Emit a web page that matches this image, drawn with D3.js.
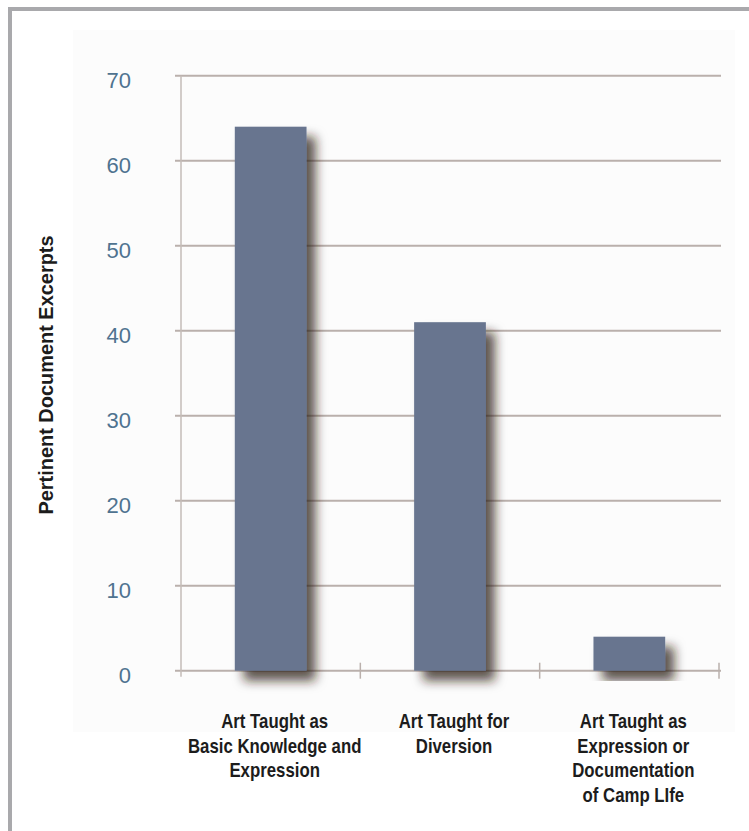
<!DOCTYPE html>
<html>
<head>
<meta charset="utf-8">
<script src="https://cdn.jsdelivr.net/npm/d3@7"></script>
<style>
  html, body { margin: 0; padding: 0; background: #ffffff; }
  svg { display: block; }
</style>
</head>
<body>
<div id="chart"></div>
<script>
// chart data
const categories = [
  ['Art Taught as', 'Basic Knowledge and', 'Expression'],
  ['Art Taught for', 'Diversion'],
  ['Art Taught as', 'Expression or', 'Documentation', 'of Camp LIfe']
];
const excerpts = [64, 41, 4];
const yTicks = [0, 10, 20, 30, 40, 50, 60, 70];
const yTitle = 'Pertinent Document Excerpts';

const width = 749;
const height = 831;
const plotLeft = 181, plotRight = 719, plotTop = 75.7, plotBottom = 670.7;

let svg = d3.select('#chart')
  .append('svg')
  .attr('width', width)
  .attr('height', height);

// soft shadow behind the bars
let defs = svg.append('defs');
let shadow = defs.append('filter')
  .attr('id', 'barShadow')
  .attr('x', '-30%').attr('y', '-30%')
  .attr('width', '180%').attr('height', '160%');
shadow.append('feDropShadow')
  .attr('dx', 9).attr('dy', 10)
  .attr('stdDeviation', 5.5)
  .attr('flood-color', '#2a1c12')
  .attr('flood-opacity', 0.75);

// frame and faint panel
svg.append('rect')
  .attr('x', 73).attr('y', 30)
  .attr('width', 662).attr('height', 702)
  .attr('fill', '#fcfcfc');
svg.append('rect')
  .attr('x', 8).attr('y', 7)
  .attr('width', 4).attr('height', height - 7)
  .attr('fill', '#a9a9ac');
svg.append('rect')
  .attr('x', 8).attr('y', 7)
  .attr('width', width - 8).attr('height', 4)
  .attr('fill', '#a9a9ac');

let keys = categories.map(function (c, i) { return i; });
let x = d3.scaleBand()
  .domain(keys)
  .range([plotLeft, plotRight])
  .paddingInner(0.6)
  .paddingOuter(0.3);
let y = d3.scaleLinear()
  .domain([0, 70])
  .range([plotBottom, plotTop]);

// gridlines
svg.append('g')
  .selectAll('line')
  .data(yTicks)
  .enter()
  .append('line')
  .attr('x1', plotLeft - 6)
  .attr('x2', plotRight + 2)
  .attr('y1', function (d) { return y(d); })
  .attr('y2', function (d) { return y(d); })
  .attr('stroke', '#bab0ac')
  .attr('stroke-width', 2);

// vertical axis line
svg.append('line')
  .attr('x1', plotLeft).attr('x2', plotLeft)
  .attr('y1', y(70)).attr('y2', plotBottom + 6)
  .attr('stroke', '#c4bcb9')
  .attr('stroke-width', 1.5);

// category boundary ticks on the baseline
let bounds = keys.map(function (k) { return x(k) + x.bandwidth() + x.step() * 0.3; });
svg.append('g')
  .selectAll('line')
  .data(bounds)
  .enter()
  .append('line')
  .attr('x1', function (d) { return d; })
  .attr('x2', function (d) { return d; })
  .attr('y1', plotBottom - 8)
  .attr('y2', plotBottom + 8)
  .attr('stroke', '#bab0ac')
  .attr('stroke-width', 1.5);

// y tick labels
let yAxis = d3.axisLeft(y).tickValues(yTicks).tickSize(0).tickPadding(0);
let yg = svg.append('g')
  .attr('transform', 'translate(131,0)')
  .call(yAxis);
yg.select('.domain').remove();
yg.selectAll('text')
  .attr('dy', '0.72em')
  .attr('y', -4)
  .attr('fill', '#4f7390')
  .style('font-family', '"Liberation Sans", Arial, sans-serif')
  .style('font-size', '22px');

// bars
svg.append('g')
  .selectAll('rect')
  .data(excerpts)
  .enter()
  .append('rect')
  .attr('x', function (d, i) { return x(i); })
  .attr('y', function (d) { return y(d); })
  .attr('width', x.bandwidth())
  .attr('height', function (d) { return plotBottom - y(d); })
  .attr('fill', '#67748f')
  .attr('filter', 'url(#barShadow)');

// category labels (condensed bold, squeezed horizontally)
let labels = svg.append('g')
  .selectAll('text')
  .data(categories)
  .enter()
  .append('text')
  .attr('text-anchor', 'middle')
  .attr('fill', '#1c1c1c')
  .style('font-family', '"Liberation Sans", Arial, sans-serif')
  .style('font-weight', 'bold')
  .style('font-size', '20px')
  .attr('transform', function (d, i) {
    return 'translate(' + (x(i) + x.bandwidth() / 2 + 4) + ',728) scale(0.84,1)';
  });
labels.selectAll('tspan')
  .data(function (d) { return d; })
  .enter()
  .append('tspan')
  .attr('x', 0)
  .attr('y', function (d, i) { return i * 24.6; })
  .text(function (d) { return d; });

// y axis title
svg.append('text')
  .attr('transform', 'translate(53,375) rotate(-90) scale(0.95,1)')
  .attr('text-anchor', 'middle')
  .attr('fill', '#1c1c1c')
  .style('font-family', '"Liberation Sans", Arial, sans-serif')
  .style('font-weight', 'bold')
  .style('font-size', '21px')
  .text(yTitle);
</script>
</body>
</html>
